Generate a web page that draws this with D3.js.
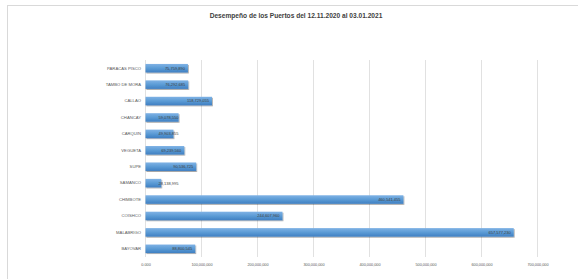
<!DOCTYPE html>
<html>
<head>
<meta charset="utf-8">
<script src="https://cdn.jsdelivr.net/npm/d3@7"></script>
<style>
    body { margin: 0; background: #fff; }
    svg { display: block; font-family: "Liberation Sans", Arial, sans-serif; }
</style>
</head>
<body>
<div id="chart"></div>
<script>
const title = `Desempeño de los Puertos del 12.11.2020 al 03.01.2021`
const ports = [`PARACAS PISCO`, `TAMBO DE MORA`, `CALLAO`, `CHANCAY`, `CARQUIN`, `VEGUETA`, `SUPE`, `SAMANCO`, `CHIMBOTE`, `COISHCO`, `MALABRIGO`, `BAYOVAR`]
const values = [75759890, 76292685, 118729055, 59078550, 49903855, 69239560, 90536725, 28138995, 460541455, 244607960, 657577230, 88800545]
const ticks = [0, 100000000, 200000000, 300000000, 400000000, 500000000, 600000000, 700000000]

const width = 578, height = 279
const margin = { left: 145.5, right: 40.5, top: 60, bottom: 22 }

const svg = d3.select(`#chart`).append(`svg`).attr(`width`, width).attr(`height`, height)

// chart frame
svg.append(`rect`).attr(`x`, 7.5).attr(`y`, 5.5).attr(`width`, 580).attr(`height`, 290)
    .attr(`fill`, `none`).attr(`stroke`, `#d9d9d9`).attr(`stroke-width`, 1)

svg.append(`text`).attr(`x`, 296).attr(`y`, 17.5).attr(`text-anchor`, `middle`)
    .attr(`font-size`, 6.6).attr(`font-weight`, `bold`).attr(`fill`, `#404040`).text(title)

const defs = svg.append(`defs`)
const grad = defs.append(`linearGradient`).attr(`id`, `barGrad`).attr(`x1`, 0).attr(`y1`, 0).attr(`x2`, 0).attr(`y2`, 1)
grad.append(`stop`).attr(`offset`, `0%`).attr(`stop-color`, `#7fb2e5`)
grad.append(`stop`).attr(`offset`, `50%`).attr(`stop-color`, `#5b9bd5`)
grad.append(`stop`).attr(`offset`, `100%`).attr(`stop-color`, `#3f7fc2`)
const shadow = defs.append(`filter`).attr(`id`, `shadow`).attr(`x`, `-10%`).attr(`y`, `-30%`).attr(`width`, `130%`).attr(`height`, `190%`)
shadow.append(`feDropShadow`).attr(`dx`, 0.8).attr(`dy`, 1).attr(`stdDeviation`, 0.7).attr(`flood-color`, `#000`).attr(`flood-opacity`, 0.35)

const x = d3.scaleLinear().domain([0, 700000000]).range([margin.left, width - margin.right])
const y = d3.scaleBand().domain(ports).range([margin.top, height - margin.bottom]).paddingInner(0.48).paddingOuter(0.24)

const fmtTick = d => d === 0 ? `0.000` : d3.format(`,`)(d)

// gridlines
svg.append(`g`).selectAll(`line`).data(ticks).join(`line`)
    .attr(`x1`, d => x(d)).attr(`x2`, d => x(d))
    .attr(`y1`, margin.top).attr(`y2`, height - margin.bottom)
    .attr(`stroke`, `#d9d9d9`).attr(`stroke-width`, 0.8)

const xAxis = svg.append(`g`).attr(`transform`, `translate(0,${height - margin.bottom})`)
    .call(d3.axisBottom(x).tickValues(ticks).tickFormat(fmtTick).tickSize(0).tickPadding(6))
xAxis.select(`.domain`).remove()
xAxis.selectAll(`text`).attr(`font-size`, 3.8).attr(`fill`, `#595959`).attr(`font-family`, `"Liberation Sans", Arial, sans-serif`)

const yAxis = svg.append(`g`).attr(`transform`, `translate(${margin.left},0)`)
    .call(d3.axisLeft(y).tickSize(0).tickPadding(4.5))
yAxis.select(`.domain`).remove()
yAxis.selectAll(`text`).attr(`font-size`, 4.2).attr(`fill`, `#595959`).attr(`font-family`, `"Liberation Sans", Arial, sans-serif`)

const data = ports.map((p, i) => ({ port: p, value: values[i] }))

svg.append(`g`).selectAll(`rect`).data(data).join(`rect`)
    .attr(`x`, x(0)).attr(`y`, d => y(d.port))
    .attr(`width`, d => x(d.value) - x(0)).attr(`height`, y.bandwidth())
    .attr(`fill`, `url(#barGrad)`).attr(`filter`, `url(#shadow)`)

svg.append(`g`).selectAll(`text`).data(data).join(`text`)
    .attr(`x`, d => Math.max(x(d.value) - 3, x(0) + 33))
    .attr(`y`, d => y(d.port) + y.bandwidth() / 2 + 1.4)
    .attr(`text-anchor`, `end`).attr(`font-size`, 4).attr(`fill`, `#404040`)
    .text(d => d3.format(`,`)(d.value))
</script>
</body>
</html>
